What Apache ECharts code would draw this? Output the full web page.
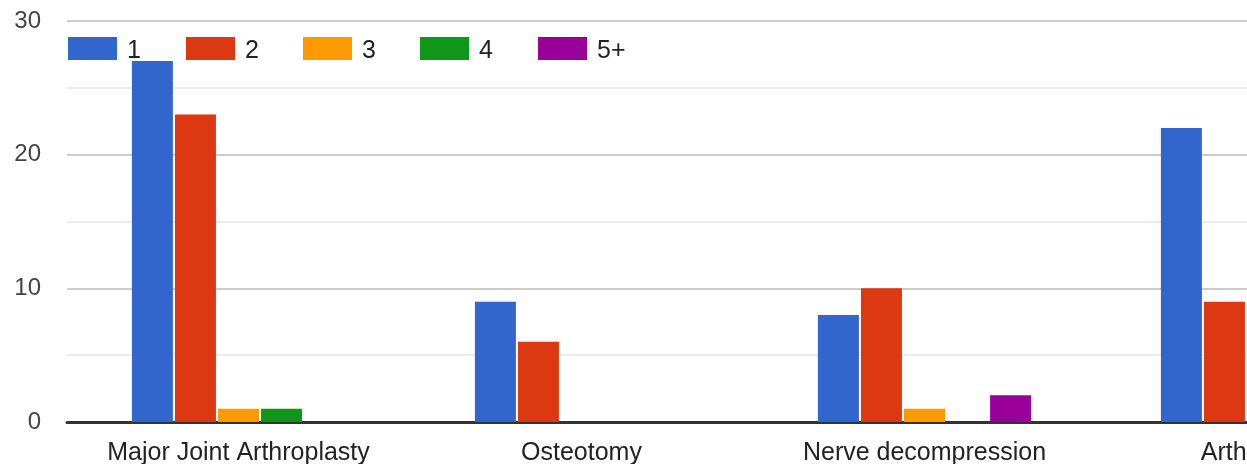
<!DOCTYPE html>
<html>
<head>
<meta charset="utf-8">
<script src="https://cdn.jsdelivr.net/npm/echarts@6/dist/echarts.min.js"></script>
<style>
html,body{margin:0;padding:0;background:#fff;}
#chart{width:1247px;height:464px;}
</style>
</head>
<body>
<div id="chart"></div>
<script>
const categories = ['Major Joint Arthroplasty', 'Osteotomy', 'Nerve decompression', 'Arthroscopy'];
const seriesNames = ['1', '2', '3', '4', '5+'];
const s1 = [27, 9, 8, 22];
const s2 = [23, 6, 10, 9];
const s3 = [1, 0, 1, 0];
const s4 = [1, 0, 0, 0];
const s5 = [0, 0, 2, 0];
const colors = ['#3366cc', '#dc3912', '#ff9900', '#109618', '#990099'];
const values = [s1, s2, s3, s4, s5];

const font = 'Arial, "Liberation Sans", sans-serif';
const legendLefts = [68, 186, 303, 420, 538];
const chart = echarts.init(document.getElementById('chart'), null, {renderer: 'canvas'});
chart.setOption({
  animation: false,
  color: colors,
  textStyle: {fontFamily: font},
  legend: seriesNames.map((n, i) => ({
    left: legendLefts[i], top: 37, padding: 0,
    itemWidth: 49, itemHeight: 23,
    icon: 'rect',
    formatter: '{a|{name}}',
    textStyle: {
      fontFamily: font, fontSize: 25, color: '#222',
      rich: {a: {fontFamily: font, fontSize: 25, color: '#222', padding: [5, 0, 0, 5]}}
    },
    data: [n]
  })),
  grid: {left: 67, top: 21, width: 1372, height: 401, containLabel: false, outerBoundsMode: 'none'},
  xAxis: {
    type: 'category',
    data: categories,
    axisTick: {show: false},
    axisLine: {lineStyle: {color: '#333', width: 3}},
    axisLabel: {interval: 0, fontSize: 25, color: '#222', margin: 19, fontFamily: font}
  },
  yAxis: {
    type: 'value', min: 0, max: 30, interval: 10,
    axisLine: {show: false}, axisTick: {show: false},
    axisLabel: {fontSize: 24, color: '#444', margin: 26, fontFamily: font, padding: [4, 0, 0, 0]},
    splitLine: {lineStyle: {color: '#cccccc', width: 2}},
    minorTick: {show: false, splitNumber: 2},
    minorSplitLine: {show: true, lineStyle: {color: '#ebebeb', width: 2}}
  },
  series: seriesNames.map((n, i) => ({
    name: n, type: 'bar', data: values[i],
    barWidth: 41, barGap: '5%',
    itemStyle: {color: colors[i]}
  }))
});
</script>
</body>
</html>
